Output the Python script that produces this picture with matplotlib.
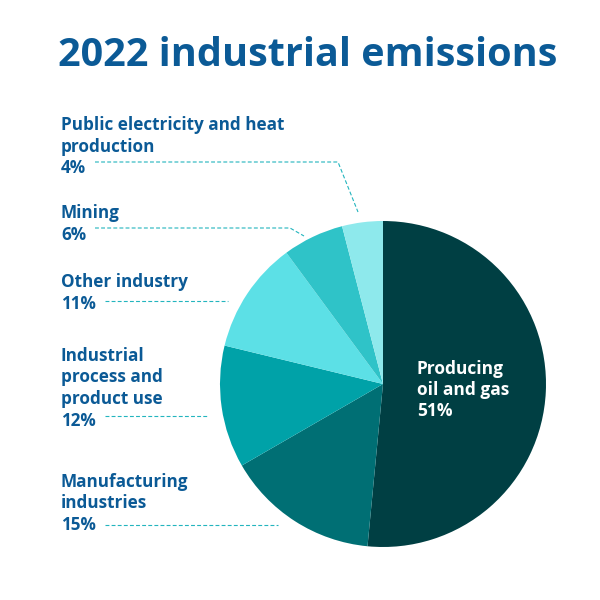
import numpy as np
import matplotlib.pyplot as plt
from matplotlib.lines import Line2D

plt.rcParams['font.family'] = ['Open Sans', 'DejaVu Sans']

# data
sectors = ['Producing\noil and gas', 'Manufacturing\nindustries', 'Industrial\nprocess and\nproduct use',
           'Other industry', 'Mining', 'Public electricity and heat\nproduction']
shares = [51, 15, 12, 11, 6, 4]
colors = ['#003f43', '#006f74', '#00a2a8', '#5ce0e6', '#2fc3c8', '#8ee9ec']

title_color = '#0b5a96'
leader_color = '#23b5be'

W = 600.0
fig = plt.figure(figsize=(6, 6), dpi=100)

# pie centre and radius in pixels
cx, cy, r = 383, 384, 163
ax = fig.add_axes([(cx - r) / W, 1 - (cy + r) / W, 2 * r / W, 2 * r / W])
wedges, _ = ax.pie(shares, colors=colors, startangle=90, counterclock=False,
                   radius=1, wedgeprops=dict(linewidth=0))
ax.set_xlim(-1, 1)
ax.set_ylim(-1, 1)
ax.set_aspect('equal')
ax.axis('off')

fig.text(0.5 + 8 / W, 1 - 55 / W, '2022 industrial emissions', ha='center', va='center',
         fontsize=28.5, fontweight='bold', color=title_color)

# label for the big slice, inside
fig.text(417 / W, 1 - 390 / W, f'{sectors[0]}\n{shares[0]}%', ha='left', va='center',
         fontsize=12.5, fontweight='bold', color='white', linespacing=1.25)

# outside labels: (text top y, leader y, leader x start, leader x end, diagonal end)
label_pos = {
    1: (473, 525, 105, 278, None),
    2: (347, 416, 105, 208, None),
    3: (273, 301, 105, 228, None),
    4: (204, 228, 95, 290, (304, 236)),
    5: (116, 162, 95, 338, (358, 212)),
}

def px(x, y):
    return x / W, 1 - y / W

for i, (ytop, ly, x0, x1, diag) in label_pos.items():
    fig.text(61 / W, 1 - ytop / W, f'{sectors[i]}\n{shares[i]}%', ha='left', va='top',
             fontsize=12.3, fontweight='bold', color=title_color, linespacing=1.25)
    xs = [x0, x1]
    ys = [ly, ly]
    if diag is not None:
        xs.append(diag[0])
        ys.append(diag[1])
    fx, fy = zip(*[px(a, b) for a, b in zip(xs, ys)])
    fig.add_artist(Line2D(fx, fy, transform=fig.transFigure, color=leader_color,
                          linewidth=0.8, linestyle=(0, (3.5, 2))))

fig.savefig('out.png', dpi=100, facecolor='white')
